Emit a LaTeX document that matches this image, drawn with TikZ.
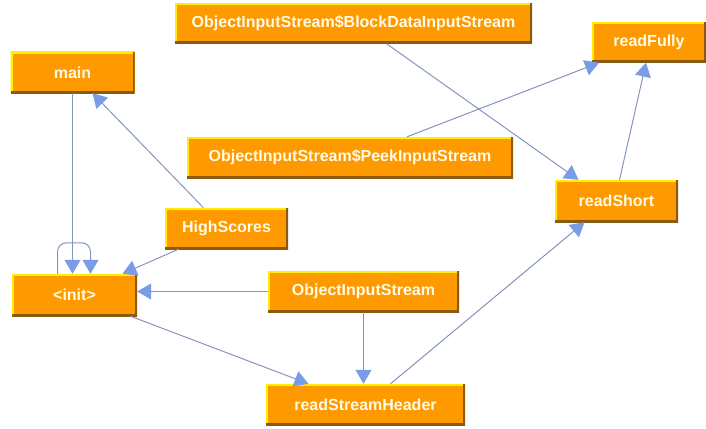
\documentclass[tikz,border=0pt]{standalone}
\usepackage{fontspec}
\setmainfont{Liberation Sans}
\usetikzlibrary{arrows.meta}
\definecolor{boxorange}{HTML}{FF9900}
\definecolor{boxyellow}{HTML}{FFEE00}
\definecolor{boxbrown}{HTML}{8A5A10}
\definecolor{boxtext}{HTML}{FFFBE6}
\definecolor{edgecol}{HTML}{8495BD}
\definecolor{tipcol}{HTML}{7A9CE6}
\tikzset{
  box/.style={rectangle, fill=boxorange, text=boxtext, inner sep=0pt,
    font=\fontsize{16}{18}\selectfont\bfseries,
    path picture={
      \draw[boxyellow, line width=4pt] (path picture bounding box.south west) -- (path picture bounding box.north west) -- (path picture bounding box.north east);
      \draw[boxbrown, line width=4pt] (path picture bounding box.north east) -- (path picture bounding box.south east) -- (path picture bounding box.south west);
    }},
  link/.style={draw=edgecol, line width=1pt, -{Triangle[length=14pt,width=16pt,fill=tipcol,color=tipcol]}}
}
\begin{document}
\begin{tikzpicture}[x=1pt,y=-1pt]
\useasboundingbox (0,0) rectangle (706,428);
\node[box, minimum width=357pt, minimum height=40pt] (block) at (353.5,23.5) {ObjectInputStream\$BlockDataInputStream};
\node[box, minimum width=326pt, minimum height=41pt] (peek) at (350,157.5) {ObjectInputStream\$PeekInputStream};
\node[box, minimum width=114pt, minimum height=40pt] (fully) at (649,42.5) {readFully};
\node[box, minimum width=123pt, minimum height=42pt] (short) at (616.5,201) {readShort};
\node[box, minimum width=124pt, minimum height=41pt] (main) at (72.5,72.5) {main};
\node[box, minimum width=123pt, minimum height=41pt] (hs) at (226.5,228.5) {HighScores};
\node[box, minimum width=125pt, minimum height=42pt] (init) at (74.5,295) {<init>};
\node[box, minimum width=191pt, minimum height=41pt] (ois) at (363.5,291.5) {ObjectInputStream};
\node[box, minimum width=199pt, minimum height=41pt] (rsh) at (365.5,404.5) {readStreamHeader};

\draw[link] (main.south) -- (main.south |- init.north);
\draw[link, rounded corners=9pt] ([xshift=-17pt]init.north) -- ++(0,-31) -- ++(33,0) -- ([xshift=16pt]init.north);
\draw[link] ([xshift=-23pt]hs.north) -- ([xshift=20pt]main.south);
\draw[link] ([xshift=-48pt]hs.south) -- ([xshift=48pt]init.north);
\draw[link] (ois.west) -- (ois.west -| init.east);
\draw[link] (ois.south) -- (ois.south |- rsh.north);
\draw[link] ([xshift=56pt]init.south) -- ([xshift=-57pt]rsh.north);
\draw[link] ([xshift=25pt]rsh.north) -- ([xshift=-32pt]short.south);
\draw[link] ([xshift=33pt]block.south) -- ([xshift=-38pt]short.north);
\draw[link] ([xshift=57pt]peek.north) -- ([xshift=-50pt]fully.south);
\draw[link] ([xshift=3pt]short.north) -- ([xshift=-3pt]fully.south);
\end{tikzpicture}
\end{document}
